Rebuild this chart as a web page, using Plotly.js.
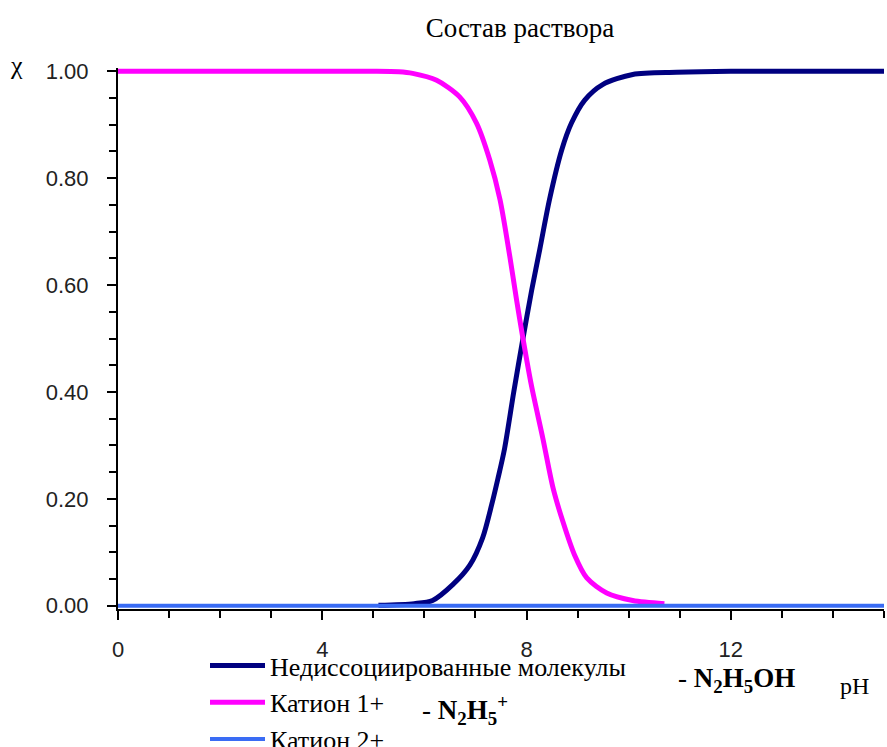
<!DOCTYPE html>
<html>
<head>
<meta charset="utf-8">
<script src="https://cdn.plot.ly/plotly-3.0.1.min.js"></script>
<style>html,body{margin:0;padding:0;background:#fff;}#chart{width:887px;height:747px;}</style>
</head>
<body>
<div id="chart"></div>
<script>
// pH values and mole fractions
const phMolecule = [5.1, 5.8, 6.16, 6.56, 6.89, 7.14, 7.32, 7.44, 7.57, 7.75, 7.93, 8.1, 8.26, 8.45, 8.69, 8.88, 9.14, 9.49, 10.08, 10.94, 12, 13, 14, 15];
const chiMolecule = [0.001, 0.004, 0.01, 0.04, 0.076, 0.127, 0.19, 0.238, 0.294, 0.40, 0.5, 0.59, 0.667, 0.76, 0.853, 0.903, 0.946, 0.975, 0.994, 0.998, 1, 1, 1, 1];

const phCation1 = [0, 1, 2, 3, 4, 5, 5.5, 5.77, 6.24, 6.69, 7.02, 7.28, 7.48, 7.67, 7.8, 7.93, 8.1, 8.32, 8.52, 8.71, 8.94, 9.18, 9.57, 10.08, 10.7];
const chiCation1 = [1, 1, 1, 1, 1, 1, 0.999, 0.996, 0.983, 0.952, 0.903, 0.834, 0.76, 0.655, 0.575, 0.5, 0.41, 0.313, 0.22, 0.158, 0.095, 0.052, 0.024, 0.01, 0.004];

const phCation2 = [0, 15];
const chiCation2 = [0, 0];

const seriesNames = ['Недиссоциированные молекулы', 'Катион 1+', 'Катион 2+'];
const xTickVals = [0, 4, 8, 12];
const yTickVals = [0, 0.2, 0.4, 0.6, 0.8, 1.0];

const W = 887, H = 747, L = 118, R = 3, T = 68, B = 138;
const pw = W - L - R, ph = H - T - B;
const px = x => (x - L) / pw;
const py = y => (H - B - y) / ph;

const serif = 'Liberation Serif, Times New Roman, serif';
const sans = 'Liberation Sans, Arial, sans-serif';

const traces = [
  {x: phMolecule, y: chiMolecule, name: seriesNames[0], mode: 'lines', line: {color: '#000080', width: 5, shape: 'spline', smoothing: 0.8}, legendgroup: 'a'},
  {x: phCation1, y: chiCation1, name: seriesNames[1], mode: 'lines', line: {color: '#ff00ff', width: 5, shape: 'spline', smoothing: 0.8}, legendgroup: 'b'},
  {x: phCation2, y: chiCation2, name: seriesNames[2], mode: 'lines', line: {color: '#3a6cf4', width: 4}, legendgroup: 'c'}
];

const layout = {
  width: W, height: H,
  margin: {l: L, r: R, t: T, b: B, pad: 0, autoexpand: false},
  paper_bgcolor: '#fff', plot_bgcolor: '#fff',
  title: {text: 'Состав раствора', font: {family: serif, size: 27, color: '#000'}, xref: 'paper', x: px(520), xanchor: 'center', yref: 'container', y: 1 - 28 / H, yanchor: 'middle'},
  showlegend: true,
  legend: {xref: 'container', yref: 'container', x: 205 / W, y: 1 - 642 / H, xanchor: 'left', yanchor: 'top', font: {family: serif, size: 26, color: '#000'}, bgcolor: 'rgba(0,0,0,0)', borderwidth: 0, tracegroupgap: 0, itemwidth: 55},
  xaxis: {
    range: [0, 15], tickvals: xTickVals, ticktext: xTickVals.map(String),
    showgrid: false, zeroline: false, showline: true, linecolor: '#000', linewidth: 2,
    ticks: 'outside', ticklen: 9, tickwidth: 2, tickcolor: '#000',
    minor: {dtick: 1, tick0: 0, ticks: 'outside', ticklen: 7, tickwidth: 2, tickcolor: '#000', showgrid: false},
    ticklabelstandoff: 11,
    tickfont: {family: sans, size: 22, color: '#222'}
  },
  yaxis: {
    range: [-0.006, 1.006], tickvals: yTickVals, tickformat: '.2f',
    showgrid: false, zeroline: false, showline: true, linecolor: '#000', linewidth: 2,
    ticks: 'outside', ticklen: 9, tickwidth: 2, tickcolor: '#000',
    minor: {dtick: 0.05, tick0: 0, ticks: 'outside', ticklen: 7, tickwidth: 2, tickcolor: '#000', showgrid: false},
    ticklabelstandoff: 14,
    tickfont: {family: sans, size: 22, color: '#222'}
  },
  annotations: [
    {text: 'χ', xref: 'paper', yref: 'paper', x: px(8), y: py(66), xanchor: 'left', yanchor: 'middle', showarrow: false, font: {family: serif, size: 26, color: '#000'}},
    {text: 'pH', xref: 'paper', yref: 'paper', x: px(838), y: py(686), xanchor: 'left', yanchor: 'middle', showarrow: false, font: {family: serif, size: 24, color: '#000'}},
    {text: '- <b>N<sub>2</sub>H<sub>5</sub>OH</b>', xref: 'paper', yref: 'paper', x: px(676), y: py(680), xanchor: 'left', yanchor: 'middle', showarrow: false, font: {family: serif, size: 27, color: '#000'}},
    {text: '- <b>N<sub>2</sub>H<sub>5</sub><sup>+</sup></b>', xref: 'paper', yref: 'paper', x: px(420), y: py(710), xanchor: 'left', yanchor: 'middle', showarrow: false, font: {family: serif, size: 27, color: '#000'}}
  ]
};

Plotly.newPlot('chart', traces, layout, {displayModeBar: false, staticPlot: true});
</script>
</body>
</html>
